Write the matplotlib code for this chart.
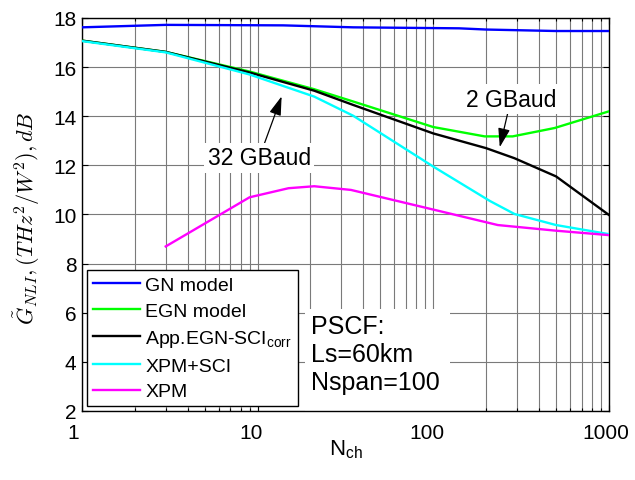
import matplotlib
matplotlib.use("Agg")
import matplotlib.pyplot as plt
from matplotlib.patches import Rectangle
from matplotlib.transforms import ScaledTranslation
from matplotlib.ticker import LogLocator, NullFormatter, FixedLocator

plt.rcParams['font.family'] = ['Liberation Sans', 'DejaVu Sans']
plt.rcParams['mathtext.fontset'] = 'custom'
plt.rcParams['mathtext.rm'] = 'Liberation Sans'
plt.rcParams['mathtext.it'] = 'Liberation Sans:italic'

# Number of channels and normalized NLI PSD (dB) per model
n_gn = [1, 3, 14, 35, 140, 200, 500, 1000]
g_gn = [17.62, 17.72, 17.70, 17.62, 17.58, 17.53, 17.47, 17.47]

n_egn = [1, 3, 9, 21, 35, 100, 196, 283, 490, 1000]
g_egn = [17.08, 16.62, 15.82, 15.10, 14.60, 13.56, 13.18, 13.18, 13.52, 14.20]

n_app = [1, 3, 9, 21, 35, 100, 200, 290, 500, 1000]
g_app = [17.08, 16.62, 15.78, 15.04, 14.46, 13.30, 12.70, 12.29, 11.55, 9.98]

n_xsci = [1, 3, 9, 21, 35, 100, 210, 290, 500, 1000]
g_xsci = [17.06, 16.60, 15.70, 14.80, 14.02, 11.95, 10.55, 10.02, 9.57, 9.20]

n_xpm = [3, 9, 15, 21, 34, 100, 233, 500, 1000]
g_xpm = [8.70, 10.70, 11.07, 11.15, 11.00, 10.20, 9.57, 9.34, 9.16]

labels = ['GN model', 'EGN model', r'App.EGN-SCI$_{\mathrm{corr}}$', 'XPM+SCI', 'XPM']
colors = ['#0000ff', '#00ff00', '#000000', '#00ffff', '#ff00ff']

x_ticks = [1, 10, 100, 1000]
y_ticks = [2, 4, 6, 8, 10, 12, 14, 16, 18]

fig = plt.figure(figsize=(6.35, 4.81), dpi=100)
ax = fig.add_axes([0.129, 0.1435, 0.830, 0.817])

series = [(n_gn, g_gn), (n_egn, g_egn), (n_app, g_app), (n_xsci, g_xsci), (n_xpm, g_xpm)]
for (n, g), lab, col in zip(series, labels, colors):
    ax.plot(n, g, color=col, lw=1.7, label=lab, zorder=3)

ax.set_xscale('log')
ax.set_xlim(1, 1000)
ax.set_ylim(2, 18)
ax.xaxis.set_major_locator(FixedLocator(x_ticks))
ax.set_xticklabels([str(t) for t in x_ticks])
ax.xaxis.set_minor_locator(LogLocator(base=10, subs=range(2, 10)))
ax.xaxis.set_minor_formatter(NullFormatter())
ax.set_yticks(y_ticks)
ax.set_yticklabels([str(t) for t in y_ticks])

ax.grid(True, which='both', axis='x', color='#7a7a7a', lw=0.8, zorder=0)
ax.grid(True, which='major', axis='y', color='#7a7a7a', lw=0.8, zorder=0)
ax.set_axisbelow(True)

ax.tick_params(which='both', direction='in', top=True, right=True, labelsize=15,
               width=0.8, color='black')
ax.tick_params(which='major', length=4)
ax.tick_params(axis='x', which='major', pad=8.5)
ax.tick_params(axis='y', which='major', pad=4)
ax.tick_params(which='minor', length=2.5)
for s in ax.spines.values():
    s.set_linewidth(1.0)

# nudge x tick labels slightly to the left
for lbl, dx in zip(ax.get_xticklabels(), [-9, -7, -6, -3]):
    lbl.set_transform(lbl.get_transform() + ScaledTranslation(dx / 100, 0, fig.dpi_scale_trans))

ax.set_xlabel(r'N$_{\mathrm{ch}}$', fontsize=16, labelpad=-3)
ax.set_ylabel(r'$\tilde{G}_{NLI}, (THz^2/W^2), dB$', fontsize=16,
              math_fontfamily='cm')
ax.yaxis.set_label_coords(-0.075, 0.492)

# parameter box
ax.add_patch(Rectangle((0.423, 0.0), 0.275, 0.26, transform=ax.transAxes,
                       facecolor='white', edgecolor='none', zorder=1))
ax.text(0.4345, 0.145, 'PSCF:\nLs=60km\nNspan=100', transform=ax.transAxes,
        fontsize=18, va='center', ha='left', zorder=4)

leg = ax.legend(loc='lower left', bbox_to_anchor=(0.0095, 0.012), borderaxespad=0,
                fontsize=14, frameon=True, fancybox=False, framealpha=1,
                edgecolor='black', handlelength=2.45, handletextpad=0.25,
                labelspacing=0.42, borderpad=0.3)
leg.get_frame().set_linewidth(1.0)
leg.set_zorder(5)

arrow = dict(arrowstyle='-|>,head_length=0.7,head_width=0.22', color='black',
             lw=0.9, shrinkA=0, shrinkB=0)
bbox = dict(boxstyle='square,pad=0.15', facecolor='white', edgecolor='none')
ax.annotate('32 GBaud', xy=(13.7, 14.81), xytext=(10.2, 12.3), fontsize=16.5,
            ha='center', va='center', arrowprops=arrow, bbox=bbox, zorder=6)
ax.annotate('2 GBaud', xy=(239, 12.74), xytext=(277, 14.70), fontsize=16.5,
            ha='center', va='center', arrowprops=arrow, bbox=bbox, zorder=6)

fig.savefig('out.png', dpi=100)
